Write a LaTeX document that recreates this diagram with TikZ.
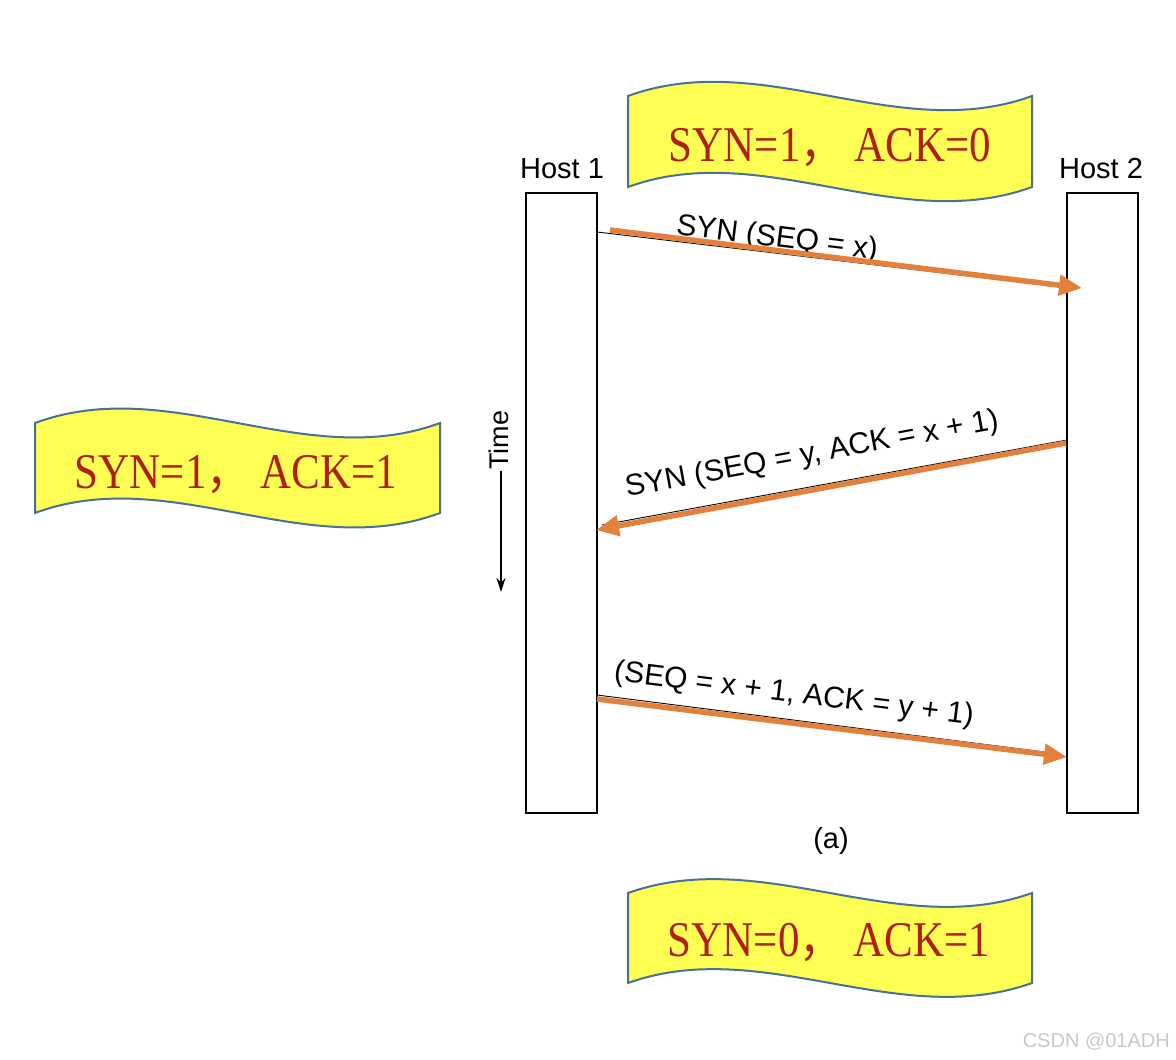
\documentclass[tikz,border=0pt]{standalone}
\usepackage{fontspec}
\usepackage{graphicx}
\setmainfont{Liberation Sans}
\newfontfamily\bannerfont{Liberation Serif}
\newfontfamily\cjk{Noto Sans CJK SC}
\usetikzlibrary{arrows.meta}
\definecolor{bannerfill}{RGB}{255,255,84}
\definecolor{bannerline}{RGB}{72,112,152}
\definecolor{bannertext}{RGB}{176,30,20}
\definecolor{arroworange}{RGB}{226,128,60}
\definecolor{wmgray}{RGB}{200,200,200}
\newcommand{\wavebanner}[5]{%
  \path[bannershape] (#1,#2) .. controls ({#1+#3/3},{#2-#5}) and ({#1+2*#3/3},{#2+#5}) .. ({#1+#3},#2)
    -- ({#1+#3},{#2+#4}) .. controls ({#1+2*#3/3},{#2+#4+#5}) and ({#1+#3/3},{#2+#4-#5}) .. (#1,{#2+#4}) -- cycle;}
\newcommand{\bannertxt}[2]{\scalebox{0.86}[1]{\fontsize{50}{50}\selectfont\bannerfont #1{\cjk ，} #2}}
\begin{document}
\begin{tikzpicture}[x=1pt,y=-1pt,
  hostbox/.style={draw=black, line width=1.4pt, minimum width=71pt, minimum height=620pt, inner sep=0pt},
  hostlabel/.style={font=\fontsize{29}{29}\selectfont, anchor=base, inner sep=0pt},
  msglabel/.style={font=\fontsize{30}{30}\selectfont, inner sep=0pt},
  bannershape/.style={fill=bannerfill, draw=bannerline, line width=2pt},
  bannerlabel/.style={text=bannertext, inner sep=0pt, anchor=base},
  blackline/.style={draw=black, line width=0.9pt},
  orangearrow/.style={draw=arroworange, line width=5.5pt, -{Triangle[length=23pt,width=20pt]}}
]
\useasboundingbox (0,0) rectangle (1176,1060);

% banners
\wavebanner{628}{96}{404}{91}{49}
\wavebanner{35}{423}{405}{90}{50}
\wavebanner{628}{893}{404}{90}{48}
\node[bannerlabel] (b1) at (830,161) {\bannertxt{SYN=1}{ACK=0}};
\node[bannerlabel] (b2) at (236,488) {\bannertxt{SYN=1}{ACK=1}};
\node[bannerlabel] (b3) at (829,956) {\bannertxt{SYN=0}{ACK=1}};

% hosts
\node[hostbox] (h1) at (561.5,503) {};
\node[hostbox] (h2) at (1102.5,503) {};
\node[hostlabel] (l1) at (562,178) {Host 1};
\node[hostlabel] (l2) at (1101,178) {Host 2};

% time
\node[font=\fontsize{27}{27}\selectfont, rotate=90, inner sep=1pt] (time) at (499,440) {Time};
\coordinate (timeend) at (501,592);
\draw[line width=1.3pt, -{Stealth[length=14pt,width=9pt]}] (time.west -| timeend) -- (timeend);

% message endpoints
\coordinate (k1s) at (597,232);
\coordinate (k1e) at (1062,287);
\coordinate (o1s) at (610,230);
\coordinate (o1e) at (1082,288);
\coordinate (k2s) at (1067,440);
\coordinate (k2e) at (602,525);
\coordinate (o2s) at (1066,443);
\coordinate (o2e) at (596,530);
\coordinate (k3s) at (597,695);
\coordinate (k3e) at (1060,754);
\coordinate (o3s) at (597,699);
\coordinate (o3e) at (1067,757);

% labels
\node[msglabel, rotate=-7] (m1) at (777,239) {SYN (SEQ = x)};
\node[msglabel, rotate=10.4] (m2) at (812,455) {SYN (SEQ = y, ACK = x + 1)};
\node[msglabel, rotate=-7] (m3) at (794,695) {(SEQ = x + 1, ACK = y + 1)};

% original thin lines
\draw[blackline] (k1s) -- (k1e);
\draw[blackline] (k2s) -- (k2e);
\draw[blackline] (k3s) -- (k3e);
% orange arrows
\draw[orangearrow] (o1s) -- (o1e);
\draw[orangearrow] (o2s) -- (o2e);
\draw[orangearrow] (o3s) -- (o3e);

\node[font=\fontsize{29}{29}\selectfont, anchor=base, inner sep=0pt] (cap) at (831,848) {(a)};
\node[font=\fontsize{20}{20}\selectfont, text=wmgray, anchor=base east, inner sep=0pt] (wm) at (1170,1047) {CSDN @01ADH};
\end{tikzpicture}
\end{document}
